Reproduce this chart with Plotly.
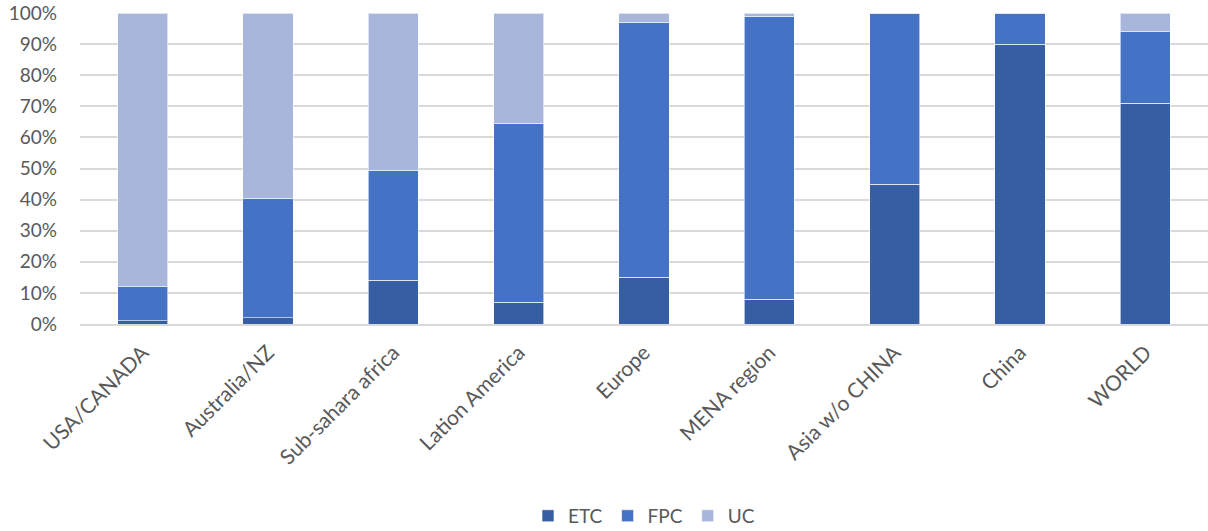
import plotly.graph_objects as go

categories = ["USA/CANADA", "Australia/NZ", "Sub-sahara africa", "Lation America", "Europe",
              "MENA region", "Asia w/o CHINA", "China", "WORLD"]
etc = [1, 2, 14, 7, 15, 8, 45, 90, 71]
fpc = [11, 38.5, 35.5, 57.5, 82, 91, 55, 10, 23]
uc = [88, 59.5, 50.5, 35.5, 3, 1, 0, 0, 6]
tick_vals = [0, 10, 20, 30, 40, 50, 60, 70, 80, 90, 100]
tick_text = [f"{v}%" for v in tick_vals]

fig = go.Figure()
for name, vals, color in [("ETC", etc, "#355FA2"), ("FPC", fpc, "#4472C4"), ("UC", uc, "#A9B6DB")]:
    fig.add_trace(go.Bar(x=categories, y=vals, name=name, marker_color=color,
                         marker_line=dict(color="rgba(255,255,255,0.6)", width=1)))

fig.update_layout(
    barmode="stack",
    bargap=0.6,
    width=1208, height=531,
    margin=dict(l=80, r=0, t=13, b=207, autoexpand=False),
    paper_bgcolor="white", plot_bgcolor="white",
    font=dict(family="Lato, Open Sans, sans-serif", size=21, color="#595959"),
    legend=dict(orientation="h", x=0.5, xanchor="center", y=-0.556, yanchor="top",
                font=dict(size=19, color="#595959"), traceorder="normal",
                itemwidth=30),
    showlegend=True,
)
fig.update_yaxes(range=[0, 100.01], tickvals=tick_vals, ticktext=tick_text, automargin=False,
                 showgrid=True, gridcolor="#D9D9D9", gridwidth=2, zeroline=False,
                 showline=False, ticks="", ticklabelstandoff=22, ticklabeloverflow="allow",
                 tickfont=dict(size=19, color="#595959"))
fig.update_xaxes(tickangle=-45, showline=True, linecolor="#D9D9D9", linewidth=2, ticks="",
                 automargin=False, ticklabelstandoff=6,
                 tickfont=dict(size=21, color="#595959"))

fig.write_html("out.html", config={"displayModeBar": False},
               post_script="document.body.style.margin='0';document.body.style.overflow='hidden';")
